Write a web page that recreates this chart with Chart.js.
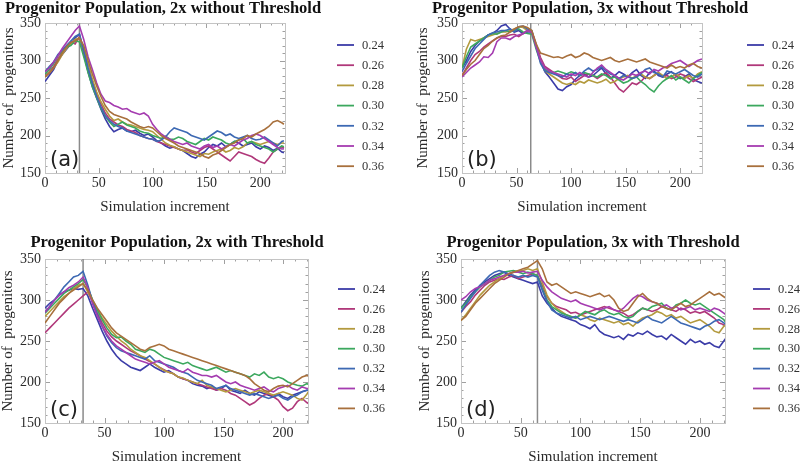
<!DOCTYPE html>
<html>
<head>
<meta charset="utf-8">
<script src="https://cdn.jsdelivr.net/npm/chart.js@4.4.1/dist/chart.umd.min.js"></script>
<style>
html,body{margin:0;padding:0;background:#fff;}
#wrap{position:relative;width:800px;height:462px;overflow:hidden;background:#fff;}
.p{position:absolute;width:400px;height:231px;}
</style>
</head>
<body>
<div id="wrap">
<div class="p" style="left:0;top:0"><canvas id="ca" width="400" height="231"></canvas></div>
<div class="p" style="left:400px;top:0"><canvas id="cb" width="400" height="231"></canvas></div>
<div class="p" style="left:0;top:231px"><canvas id="cc" width="400" height="231"></canvas></div>
<div class="p" style="left:400px;top:231px"><canvas id="cd" width="400" height="231"></canvas></div>
</div>
<script>
// ---- data ----
const steps = [0,4,8,12,16,20,24,28,32,36,40,44,48,52,56,60,64,68,72,76,80,84,88,92,96,100,104,108,112,116,120,124,128,132,136,140,144,148,152,156,160,164,168,172,176,180,184,188,192,196,200,204,208,212,216,220,222];
const seriesLabels = ['0.24','0.26','0.28','0.30','0.32','0.34','0.36'];
const xTicks = [0,50,100,150,200];
const yTicks = [150,200,250,300,350];

// Panel (a): 2x without Threshold
const a24 = [272,280,288,300,308,315,322,330,335,310, 285,265,250,235,222,212,205,208,210,206, 205,207,203,200,202,198,193,190,186,183, 185,182,180,176,172,170,175,178,184,188, 186,190,185,188,192,190,186,188,190,185, 182,186,184,180,183,178,177];
const a26 = [280,285,292,302,310,318,325,322,332,312, 290,272,256,242,230,222,218,214,212,208, 206,204,200,198,196,195,192,190,188,186, 184,182,180,181,178,176,180,184,186,182, 178,174,170,166,172,178,176,174,172,168, 165,163,170,178,182,185,183];
const a28 = [278,284,290,298,308,316,322,328,330,316, 295,275,258,245,235,226,220,222,218,215, 214,212,210,208,207,205,200,195,190,187, 185,182,180,178,176,174,172,176,175,178, 180,182,178,180,184,182,185,190,192,190, 188,190,192,190,188,190,190];
const a30 = [282,288,296,306,312,318,320,326,325,305, 284,265,250,236,226,218,212,215,218,214, 212,210,206,204,203,200,198,196,199,195, 195,198,196,192,190,188,192,196,194,198, 196,194,190,188,192,194,196,190,192,188, 186,184,182,178,182,186,185];
const a32 = [285,292,298,308,314,320,326,332,335,314, 290,270,252,238,226,220,215,212,210,206, 204,202,200,198,196,195,192,194,198,205, 210,208,206,204,200,198,196,194,198,202, 206,204,200,202,198,196,198,200,196,194, 195,198,194,190,186,192,193];
const a34 = [285,290,298,306,316,324,332,340,346,328, 305,288,270,255,246,244,240,238,235,236, 232,230,228,230,226,215,208,202,198,195, 192,190,188,190,186,184,182,186,188,184, 186,182,185,188,186,190,194,196,200,202, 200,196,192,188,184,182,182];
const a36 = [278,283,290,300,310,318,324,326,330,320, 300,282,266,252,240,232,228,226,224,222, 218,215,212,210,212,210,205,200,196,193, 190,186,184,182,180,178,176,172,170,174, 176,180,184,188,190,194,196,200,198,202, 205,208,212,218,220,217,215];

// Panel (b): 3x without Threshold
const b24 = [290,300,312,320,326,330,334,336,340,346, 348,342,338,340,336,338,338,320,300,285, 278,270,262,260,265,268,275,280,282,278, 280,285,290,282,276,280,285,282,278,284, 288,280,276,284,286,280,278,282,285,280, 276,278,282,275,272,270,270];
const b26 = [280,290,300,308,312,318,322,326,330,332, 332,334,335,332,336,340,338,322,304,292, 288,284,280,276,275,278,272,276,280,282, 280,276,280,284,278,270,262,258,264,270, 268,272,278,276,280,284,278,280,276,278, 282,280,276,272,275,278,278];
const b28 = [290,315,328,326,328,330,332,334,336,338, 338,340,342,345,344,340,338,318,300,286, 282,278,274,270,268,270,268,272,270,274, 272,270,272,275,270,272,276,278,280,276, 280,282,278,276,280,284,280,276,278,282, 278,276,280,276,282,285,283];
const b30 = [290,305,318,322,326,330,334,336,335,338, 340,338,340,342,338,336,335,315,298,288, 285,284,286,284,282,285,283,280,284,282, 280,278,282,280,276,278,274,270,272,276, 278,272,268,262,258,266,272,276,280,274, 278,274,270,276,280,284,285];
const b32 = [285,296,306,316,322,328,334,337,338,340, 340,342,338,345,346,342,340,318,296,286, 284,282,280,278,282,280,284,280,286,290, 286,288,292,286,282,280,276,280,278,276, 278,282,288,290,284,282,278,286,284,282, 285,288,284,280,278,282,280];
const b34 = [278,284,290,294,298,305,304,310,325,330, 330,328,332,334,336,340,338,318,300,290, 286,284,282,280,278,282,280,284,280,278, 284,290,294,288,284,280,276,274,278,282, 280,284,286,282,288,286,290,292,296,298, 300,296,292,296,300,302,305];
const b36 = [280,288,295,300,308,316,320,326,330,333, 334,338,342,345,346,344,340,322,310,308, 306,304,305,303,306,308,304,306,310,308, 304,302,300,302,304,300,298,300,302,300, 298,300,302,298,296,294,292,290,294,290, 292,290,294,296,292,290,290];

// Panel (c): 2x with Threshold
const c24 = [290,296,300,306,310,312,314,313,314,305, 290,276,262,250,240,232,226,222,218,216, 214,218,222,218,215,212,214,210,206,204, 202,198,196,195,192,194,190,192,196,190, 188,186,190,186,184,188,186,184,182,186, 182,180,184,186,188,190,190];
const c26 = [260,266,272,278,284,290,295,300,305,310, 298,284,272,262,255,250,246,242,238,235, 232,228,225,222,218,215,212,210,206,204, 202,200,198,196,194,192,190,192,190,186, 184,180,176,172,175,180,184,186,182,178, 170,165,168,176,180,175,173];
const c28 = [280,286,292,298,304,308,314,318,320,310, 298,288,278,270,262,256,250,246,240,236, 232,230,226,222,218,214,212,210,206,205, 202,200,198,202,196,194,192,190,188,190, 192,190,188,186,188,190,188,186,184,186, 188,186,184,180,178,185,190];
const c30 = [284,290,296,302,308,312,316,320,325,315, 300,288,276,266,258,254,255,250,246,240, 238,236,240,238,234,230,228,226,224,222, 224,220,218,216,214,216,218,215,212,214, 212,210,208,206,210,208,212,206,204,206, 204,200,198,196,195,198,197];
const c32 = [285,292,300,308,316,322,328,330,335,318, 298,282,268,256,248,242,238,236,234,232, 230,228,232,226,224,222,220,218,214,212, 210,206,202,200,198,196,192,194,196,192, 190,188,186,184,186,184,182,180,182,184, 180,178,182,184,188,190,190];
const c34 = [285,292,300,306,310,315,318,322,328,315, 295,280,268,258,250,244,240,236,232,228, 226,224,222,224,226,222,218,216,214,212, 216,212,210,208,208,206,208,204,200,198, 200,196,194,192,190,192,194,190,188,192, 194,196,192,190,194,192,192];
const c36 = [272,280,288,296,302,308,312,316,320,312, 300,290,282,274,266,260,256,252,248,244, 240,238,242,244,246,244,240,238,236,234, 232,230,228,226,224,222,220,218,216,214, 212,210,208,204,198,194,190,188,192,195, 196,194,198,202,206,208,207];

// Panel (d): 3x with Threshold
const d24 = [290,298,306,312,318,322,326,330,332,334, 330,328,326,324,322,320,322,305,296,290, 284,280,278,276,274,270,268,265,270,262, 258,256,254,256,252,258,256,260,258,262, 258,255,256,252,258,254,250,246,252,248, 250,246,248,244,242,250,254];
const d26 = [285,292,298,306,312,318,322,324,326,325, 328,330,326,328,330,332,330,318,304,296, 292,290,288,284,285,282,284,286,288,290, 292,290,288,286,284,280,282,286,290,288, 286,288,292,290,288,286,290,288,284,286, 284,286,282,278,272,270,268];
const d28 = [275,282,290,298,306,312,318,322,326,330, 332,334,335,336,338,336,338,322,306,296, 290,286,282,280,278,282,280,276,274,278, 276,274,272,274,270,272,268,274,278,280, 282,286,284,280,282,278,280,276,272,274, 276,272,268,262,260,268,270];
const d30 = [290,296,304,310,316,320,324,328,330,334, 335,336,334,332,334,332,330,314,300,292, 288,284,282,280,278,282,286,284,282,286, 288,284,282,284,280,278,280,286,290,288, 292,294,296,290,288,294,296,300,296,294, 296,292,288,284,280,276,272];
const d32 = [285,294,302,310,318,324,330,334,336,334, 332,330,328,330,328,330,328,312,298,288, 284,282,280,278,280,276,278,280,278,276, 278,280,278,276,274,276,274,272,276,280, 276,274,272,276,280,276,272,270,268,266, 264,268,270,274,276,272,270];
const d34 = [300,304,310,314,316,320,324,326,328,330, 332,334,334,335,333,334,335,324,316,310, 306,302,300,298,300,296,294,292,290,288, 290,292,288,286,290,296,302,306,304,300, 298,296,292,294,290,292,288,290,292,288, 290,288,286,290,288,284,282];
const d36 = [275,280,288,296,302,308,314,320,324,328, 332,334,336,338,340,344,348,338,322,318, 320,316,312,308,310,308,306,304,306,308, 304,306,300,290,286,288,296,304,308,302, 298,296,292,290,288,292,296,292,294,298, 302,306,310,306,308,304,302];

const colors = ['#3b3ca8','#b0387a','#b39a3e','#3ca85e','#3d69b3','#a53cb0','#a8703d'];

// ---- decorations plugin ----
const decor = {
  id: 'decor',
  beforeDatasetsDraw(chart) {
    const c = chart.options.plugins.decor;
    const ctx = chart.ctx, a = chart.chartArea;
    const xs = chart.scales.x, ys = chart.scales.y;
    ctx.save();
    ctx.strokeStyle = '#a0a0a0'; ctx.lineWidth = 1;
    ctx.beginPath();
    for (let v = 0; v <= c.xmax; v += 10) {
      const px = Math.round(xs.getPixelForValue(v)) + 0.5;
      const L = (v % 50 === 0) ? 5 : 2.5;
      ctx.moveTo(px, a.bottom); ctx.lineTo(px, a.bottom - L);
      ctx.moveTo(px, a.top); ctx.lineTo(px, a.top + L);
    }
    for (let v = 150; v <= 350; v += 10) {
      const py = Math.round(ys.getPixelForValue(v)) + 0.5;
      const L = (v % 50 === 0) ? 5 : 2.5;
      ctx.moveTo(a.left, py); ctx.lineTo(a.left + L, py);
      ctx.moveTo(a.right, py); ctx.lineTo(a.right - L, py);
    }
    ctx.stroke();
    ctx.strokeStyle = '#c4c4c4'; ctx.lineWidth = 1;
    ctx.strokeRect(Math.round(a.left) + 0.5, Math.round(a.top) + 0.5, Math.round(a.right - a.left), Math.round(a.bottom - a.top));
    ctx.strokeStyle = '#8a8a8a'; ctx.lineWidth = 1.5;
    const vx = xs.getPixelForValue(c.vline);
    ctx.beginPath(); ctx.moveTo(vx, a.top); ctx.lineTo(vx, a.bottom); ctx.stroke();
    ctx.restore();
  },
  afterDraw(chart) {
    const c = chart.options.plugins.decor;
    const ctx = chart.ctx, a = chart.chartArea;
    ctx.save();
    ctx.fillStyle = '#111';
    ctx.textAlign = 'center'; ctx.textBaseline = 'middle';
    ctx.font = 'bold 16.5px "Liberation Serif", "DejaVu Serif", serif';
    ctx.fillText(c.title, c.titleX, c.titleY);
    ctx.fillStyle = '#2a2a2a';
    ctx.font = '15px "Liberation Serif", serif';
    ctx.fillText('Simulation increment', (a.left + a.right) / 2, a.bottom + 34);
    ctx.save();
    ctx.translate(c.ytX, (a.top + a.bottom) / 2);
    ctx.rotate(-Math.PI / 2);
    ctx.fillText('Number of  progenitors', 0, 0);
    ctx.restore();
    ctx.fillStyle = '#222';
    ctx.textAlign = 'left'; ctx.textBaseline = 'alphabetic';
    ctx.font = '21px "DejaVu Sans", sans-serif';
    ctx.fillText(c.letter, a.left + 5, a.bottom - 7);
    ctx.font = '12.5px "Liberation Serif", serif';
    ctx.textBaseline = 'middle';
    chart.data.datasets.forEach((ds, i) => {
      const y = c.legY + i * c.legStep;
      ctx.strokeStyle = ds.borderColor; ctx.lineWidth = 1.8;
      ctx.beginPath(); ctx.moveTo(c.legX, y); ctx.lineTo(c.legX + 17, y); ctx.stroke();
      ctx.fillStyle = '#333';
      ctx.fillText(ds.label, c.legX + 25, y + 0.5);
    });
    ctx.restore();
  }
};

function makePanel(id, series, cfg) {
  const tickFont = { family: '"Liberation Serif", serif', size: 14 };
  new Chart(document.getElementById(id), {
    type: 'line',
    data: {
      datasets: seriesLabels.map((lab, i) => ({
        label: lab,
        data: steps.map((x, j) => ({ x: x, y: series[i][j] })),
        borderColor: colors[i],
        borderWidth: 1.6,
        pointRadius: 0,
        fill: false,
        tension: 0,
        order: 6 - i
      }))
    },
    options: {
      responsive: false,
      animation: false,
      events: [],
      layout: { padding: { left: 0, top: cfg.top, right: 400 - cfg.right, bottom: 0 } },
      plugins: {
        legend: { display: false },
        tooltip: { enabled: false },
        decor: cfg
      },
      scales: {
        x: {
          type: 'linear', min: 0, max: cfg.xmax,
          afterFit: s => { s.height = 231 - cfg.bottom; },
          afterBuildTicks: s => { s.ticks = xTicks.map(v => ({ value: v })); },
          ticks: { autoSkip: false, maxRotation: 0, font: tickFont, color: '#2a2a2a', padding: 2 },
          grid: { display: false, drawTicks: false },
          border: { display: false }
        },
        y: {
          min: 150, max: 350,
          afterFit: s => { s.width = cfg.left; },
          afterBuildTicks: s => { s.ticks = yTicks.map(v => ({ value: v })); },
          ticks: { font: tickFont, color: '#2a2a2a', padding: 4 },
          grid: { display: false, drawTicks: false },
          border: { display: false }
        }
      }
    },
    plugins: [decor]
  });
}

makePanel('ca', [a24,a26,a28,a30,a32,a34,a36], {
  left: 45, right: 285, top: 23, bottom: 173, xmax: 223, vline: 32,
  title: 'Progenitor Population, 2x without Threshold', titleX: 163, titleY: 9,
  ytX: 9, letter: '(a)', legX: 337, legY: 45, legStep: 20.2
});
makePanel('cb', [b24,b26,b28,b30,b32,b34,b36], {
  left: 62, right: 302, top: 23, bottom: 173, xmax: 220, vline: 63,
  title: 'Progenitor Population, 3x without Threshold', titleX: 190, titleY: 9,
  ytX: 23, letter: '(b)', legX: 347, legY: 45, legStep: 20.2
});
makePanel('cc', [c24,c26,c28,c30,c32,c34,c36], {
  left: 45, right: 308, top: 28, bottom: 192, xmax: 221, vline: 32,
  title: 'Progenitor Population, 2x with Threshold', titleX: 177, titleY: 12,
  ytX: 8, letter: '(c)', legX: 338, legY: 58, legStep: 19.9
});
makePanel('cd', [d24,d26,d28,d30,d32,d34,d36], {
  left: 61, right: 325, top: 28, bottom: 192, xmax: 221, vline: 64,
  title: 'Progenitor Population, 3x with Threshold', titleX: 193, titleY: 12,
  ytX: 25, letter: '(d)', legX: 353, legY: 58, legStep: 19.9
});
</script>
</body>
</html>
